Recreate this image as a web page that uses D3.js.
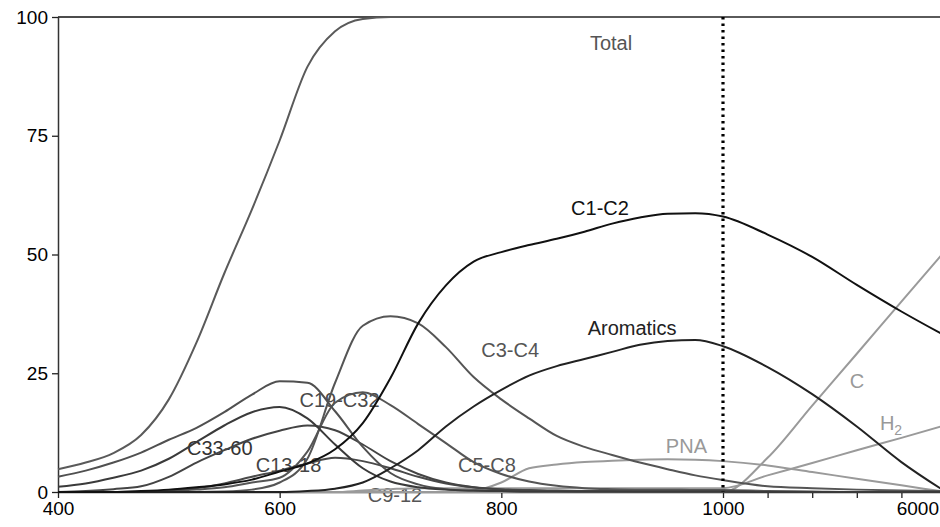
<!DOCTYPE html>
<html>
<head>
<meta charset="utf-8">
<script src="https://cdn.jsdelivr.net/npm/d3@7"></script>
<style>
  body { margin: 0; background: #fff; }
  svg { display: block; font-family: "Liberation Sans", Arial, sans-serif; }
</style>
</head>
<body>
<svg id="chart" width="940" height="527"></svg>
<script>
// temperature points (400-1000 linear, then 1000-6000 compressed)
const temps = [400,425,450,475,500,525,550,575,600,625,650,675,700,725,750,775,800,825,850,875,900,925,950,975,1000,2000,3000,4000,5000,6000];

const total     = [4.8,6.2,8.2,12,19.5,31.5,46,59.5,74,89.5,97,99.6,100,100,100,100,100,100,100,100,100,100,100,100,100,100,100,100,100,100];
const c1c2      = [0,0,0,0.2,0.5,1,1.6,2.6,4.3,6,9,14.5,24,35.5,43.5,48.5,50.5,52,53.3,54.8,56.5,57.8,58.6,58.7,58,54.2,49.5,43.6,38,32.8];
const aromatics = [0,0,0,0,0,0,0,0,0,0.2,0.7,2,5,8.8,13.8,18,21.5,24.5,26.5,28,29.5,31,31.8,32,30.7,26.3,20.6,13.8,6.3,0];
const c3c4      = [0,0,0,0,0,0,0.1,0.5,2,7,23,35,37,35.5,30.5,24.2,19.5,15.5,11.8,9.5,7.8,6.2,4.8,3.5,2.5,1.2,0.8,0.5,0.3,0.2];
const c5c8      = [0,0,0,0,0.2,0.5,1,2,3,8.5,18.8,21,18.3,14.3,10.3,6.3,3.8,2.2,1.3,0.8,0.6,0.5,0.5,0.4,0.4,0.2,0.1,0,0,0];
const c9c12     = [0,0,0,0,0.3,0.8,1.8,3.2,4.5,6,7.2,6.5,5,3.2,1.8,1,0.6,0.4,0.3,0.2,0.2,0.1,0.1,0.1,0.1,0,0,0,0,0];
const c13c18    = [0,0.2,0.6,1.2,3.2,6.2,8.8,11.2,12.9,14,13,10,6.5,3.8,2,1,0.5,0.3,0.2,0.1,0.1,0.1,0.1,0.1,0.1,0,0,0,0,0];
const c19c32    = [3.2,4.5,6.2,8.3,11,13.5,16.8,20.5,23.3,23,17,9.5,4,1.6,0.6,0.3,0.2,0.1,0.1,0.1,0.1,0.1,0.1,0.1,0.1,0,0,0,0,0];
const c33c60    = [1.1,1.8,3,4.5,7,10.5,14,16.8,17.9,15.5,10,5,2.2,1,0.5,0.3,0.2,0.1,0.1,0.1,0.1,0.1,0.1,0.1,0.1,0,0,0,0,0];
const pna       = [0,0,0,0,0,0,0,0,0,0,0,0,0,0,0,0.3,2,5,5.8,6.3,6.6,6.8,6.9,6.8,6.5,5.6,4.2,2.8,1.4,0];
const carbon    = [0,0,0,0,0,0,0,0,0,0,0,0,0,0,0,0,0,0,0,0,0,0,0,0,0,7.2,18.2,29.1,40.1,51];
const h2        = [0,0,0,0,0,0,0,0,0,0,0,0.3,0.6,0.8,0.8,0.8,0.8,0.8,0.8,0.8,0.8,0.8,0.8,0.8,0.8,3.5,6.1,8.8,11.4,14.1];

const xTicks = [400,600,800,1000,2000,3000,4000,5000,6000];
const xLabels = [400,600,800,1000];
const yTicks = [0,25,50,75,100];

// series drawn light first, dark last
const series = [
  {name: "C",         values: carbon,    color: "#9a9a9a"},
  {name: "H2",        values: h2,        color: "#9a9a9a"},
  {name: "PNA",       values: pna,       color: "#9a9a9a"},
  {name: "Total",     values: total,     color: "#5a5a5a"},
  {name: "C3-C4",     values: c3c4,      color: "#555"},
  {name: "C5-C8",     values: c5c8,      color: "#555"},
  {name: "C9-12",     values: c9c12,     color: "#4a4a4a"},
  {name: "C13-18",    values: c13c18,    color: "#444"},
  {name: "C19-C32",   values: c19c32,    color: "#505050"},
  {name: "C33-60",    values: c33c60,    color: "#3a3a3a"},
  {name: "Aromatics", values: aromatics, color: "#222"},
  {name: "C1-C2",     values: c1c2,      color: "#111"}
];

// label anchors in data units
const labels = [
  {text: "Total",     t: 899,  v: 93.1, color: "#555"},
  {text: "C1-C2",     t: 889,  v: 58.3, color: "#111"},
  {text: "Aromatics", t: 918,  v: 33.1, color: "#222"},
  {text: "C3-C4",     t: 808,  v: 28.4, color: "#555"},
  {text: "C19-C32",   t: 654,  v: 17.9, color: "#4a4a4a"},
  {text: "C33-60",    t: 546,  v: 7.8,  color: "#333"},
  {text: "C13-18",    t: 608,  v: 4.2,  color: "#444"},
  {text: "C9-12",     t: 704,  v: -2.1, color: "#555"},
  {text: "C5-C8",     t: 787,  v: 4.2,  color: "#555"},
  {text: "PNA",       t: 967,  v: 8.2,  color: "#999"},
  {text: "C",         t: 4004, v: 21.9, color: "#999"}
];

const svg = d3.select("#chart");

const x = d3.scaleLinear().domain([400, 1000, 6000]).range([58, 723, 946]);
const y = d3.scaleLinear().domain([0, 100]).range([492, 17]);

// labels under the lines
svg.append("g")
  .attr("font-size", 20)
  .selectAll("text")
  .data(labels)
  .enter().append("text")
  .attr("x", d => x(d.t))
  .attr("y", d => y(d.v))
  .attr("text-anchor", "middle")
  .attr("fill", d => d.color)
  .text(d => d.text);

const h2Label = svg.append("text")
  .attr("x", x(4767))
  .attr("y", y(13.05))
  .attr("text-anchor", "middle")
  .attr("font-size", 20)
  .attr("fill", "#999");
h2Label.append("tspan").text("H");
h2Label.append("tspan").attr("font-size", 14).attr("dy", 5).text("2");

// axes
const yAxis = svg.append("g")
  .attr("transform", "translate(" + x(400) + ",0)")
  .call(d3.axisLeft(y).tickValues(yTicks).tickSize(6).tickSizeOuter(0).tickPadding(4));

const xAxis = svg.append("g")
  .attr("transform", "translate(0," + y(0) + ")")
  .call(d3.axisBottom(x).tickValues(xTicks).tickSize(6).tickSizeOuter(0).tickPadding(4)
    .tickFormat(d => xLabels.includes(d) ? d : ""));

// last category label sits just right of the 5000 tick, at the edge
xAxis.append("text")
  .attr("x", 939)
  .attr("y", 10)
  .attr("dy", "0.71em")
  .attr("text-anchor", "end")
  .text("6000");

[yAxis, xAxis].forEach(g => {
  g.selectAll("text").attr("font-size", 19).attr("fill", "#000")
    .attr("font-family", "'Liberation Sans', Arial, sans-serif");
  g.selectAll("line").attr("stroke", "#222").attr("stroke-width", 1.3);
  g.select(".domain").attr("stroke", "#333").attr("stroke-width", 1.5);
});

// top frame
svg.append("line")
  .attr("x1", x(400)).attr("x2", x(6000))
  .attr("y1", y(100)).attr("y2", y(100))
  .attr("stroke", "#111").attr("stroke-width", 1.5);

// lines
const line = d3.line()
  .x((d, i) => x(temps[i]))
  .y(d => y(d))
  .curve(d3.curveMonotoneX);

svg.append("g")
  .attr("fill", "none")
  .attr("stroke-width", 2)
  .attr("stroke-linejoin", "round")
  .selectAll("path")
  .data(series)
  .enter().append("path")
  .attr("stroke", d => d.color)
  .attr("d", d => line(d.values));

// dotted divider at 1000
svg.append("line")
  .attr("x1", x(1000)).attr("x2", x(1000))
  .attr("y1", y(100)).attr("y2", y(0))
  .attr("stroke", "#000")
  .attr("stroke-width", 3.2)
  .attr("stroke-dasharray", "2.5,4");
</script>
</body>
</html>
